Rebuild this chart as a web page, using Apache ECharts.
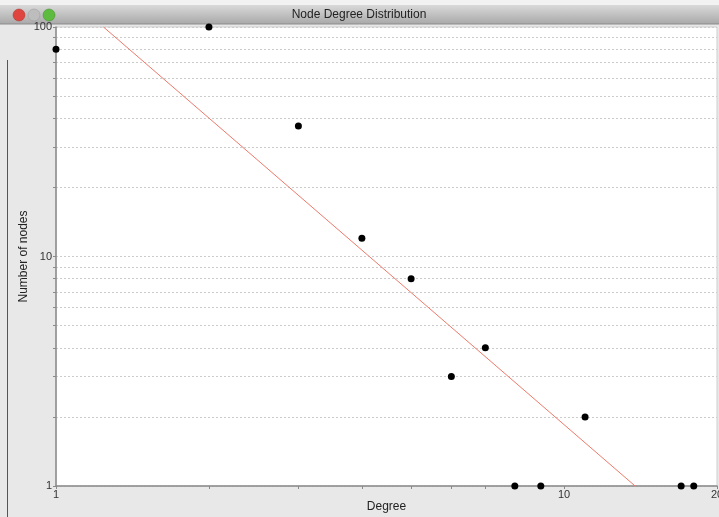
<!DOCTYPE html>
<html>
<head>
<meta charset="utf-8">
<title>Node Degree Distribution</title>
<script src="https://cdn.jsdelivr.net/npm/echarts@6/dist/echarts.min.js"></script>
<style>
  html, body { margin: 0; padding: 0; background: #e8e8e8; }
  #chart { width: 719px; height: 517px; }
</style>
</head>
<body>
<div id="chart"></div>
<script>
// observed degree distribution
const degrees = [1, 2, 3, 4, 5, 6, 7, 8, 9, 11, 17, 18];
const nodeCounts = [80, 100, 37, 12, 8, 3, 4, 1, 1, 2, 1, 1];
// power-law fit, ends where it leaves the plot
const fitDegrees = [1.24, 13.8];
const fitCounts = [100, 1];

const xLabels = [1, 10, 20];
const xTicks = [1, 2, 3, 4, 5, 6, 7, 8, 9, 10, 20];
const yLabels = [1, 10, 100];
const yTicks = [1, 2, 3, 4, 5, 6, 7, 8, 9, 10, 20, 30, 40, 50, 60, 70, 80, 90, 100];

const font = "'Liberation Sans', 'DejaVu Sans', sans-serif";

const chart = echarts.init(document.getElementById("chart"));

chart.setOption({
  animation: false,
  backgroundColor: "#e8e8e8",
  textStyle: { fontFamily: font },
  graphic: [
    // window title bar
    {
      type: "rect",
      shape: { x: 0, y: 0, width: 719, height: 5 },
      style: { fill: "#f2f2f2" },
      silent: true,
    },
    {
      type: "rect",
      shape: { x: 0, y: 5, width: 719, height: 19 },
      style: {
        fill: new echarts.graphic.LinearGradient(0, 0, 0, 1, [
          { offset: 0, color: "#d9d9d9" },
          { offset: 1, color: "#a9a9a9" },
        ]),
      },
      silent: true,
    },
    {
      type: "line",
      shape: { x1: 0, y1: 24, x2: 719, y2: 24 },
      style: { stroke: "#8c8c8c", lineWidth: 1 },
      silent: true,
    },
    {
      type: "circle",
      shape: { cx: 19, cy: 15, r: 6 },
      style: { fill: "#e0443e", stroke: "#a8322d", lineWidth: 0.5 },
      silent: true,
    },
    {
      type: "circle",
      shape: { cx: 34, cy: 15, r: 6 },
      style: { fill: "#bdbdbd", stroke: "#999", lineWidth: 0.5 },
      silent: true,
    },
    {
      type: "circle",
      shape: { cx: 49, cy: 15, r: 6 },
      style: { fill: "#5dbb3f", stroke: "#3f8a2a", lineWidth: 0.5 },
      silent: true,
    },
    {
      type: "text",
      x: 359,
      y: 15,
      style: {
        text: "Node Degree Distribution",
        fill: "#222",
        font: "12px " + font,
        align: "center",
        verticalAlign: "middle",
      },
      silent: true,
    },
    {
      type: "line",
      shape: { x1: 7.5, y1: 60, x2: 7.5, y2: 517 },
      style: { stroke: "#555", lineWidth: 1 },
      silent: true,
    },
  ],
  grid: {
    left: 56,
    top: 27,
    right: 2,
    bottom: 31,
    outerBoundsMode: "none",
    containLabel: false,
    show: true,
    backgroundColor: "#ffffff",
    borderColor: "#cfcfcf",
    borderWidth: 1,
  },
  xAxis: {
    type: "log",
    logBase: 10,
    min: 1,
    max: 20,
    name: "Degree",
    nameLocation: "middle",
    nameGap: 15,
    nameMoveOverlap: false,
    nameTextStyle: { fontSize: 12, color: "#222" },
    axisLine: { show: true, lineStyle: { color: "#8a8a8a", width: 1.5 } },
    axisTick: {
      show: true,
      length: 3,
      customValues: xTicks,
      lineStyle: { color: "#8a8a8a" },
    },
    axisLabel: {
      customValues: xLabels,
      fontSize: 11,
      color: "#333",
      margin: 3,
      hideOverlap: false,
    },
    splitLine: { show: false },
  },
  yAxis: {
    type: "log",
    logBase: 10,
    min: 1,
    max: 100,
    name: "Number of nodes",
    nameLocation: "middle",
    nameGap: 26,
    nameMoveOverlap: false,
    nameRotate: 90,
    nameTextStyle: { fontSize: 12, color: "#222" },
    axisLine: { show: true, lineStyle: { color: "#8a8a8a", width: 1.5 } },
    axisTick: {
      show: true,
      length: 3,
      customValues: yTicks,
      lineStyle: { color: "#8a8a8a" },
    },
    axisLabel: {
      customValues: yLabels,
      fontSize: 11,
      color: "#333",
      margin: 4,
    },
    splitLine: {
      show: true,
      lineStyle: { color: "#cccccc", type: [2, 2], width: 1 },
    },
  },
  series: [
    {
      name: "fit",
      type: "line",
      data: fitDegrees.map((d, i) => [d, fitCounts[i]]),
      showSymbol: false,
      lineStyle: { color: "#ec7a6c", width: 1 },
      z: 2,
    },
    {
      name: "degree",
      type: "scatter",
      data: degrees.map((d, i) => [d, nodeCounts[i]]),
      symbolSize: 7,
      itemStyle: { color: "#000000", opacity: 1 },
      clip: true,
      z: 3,
    },
  ],
});
</script>
</body>
</html>
